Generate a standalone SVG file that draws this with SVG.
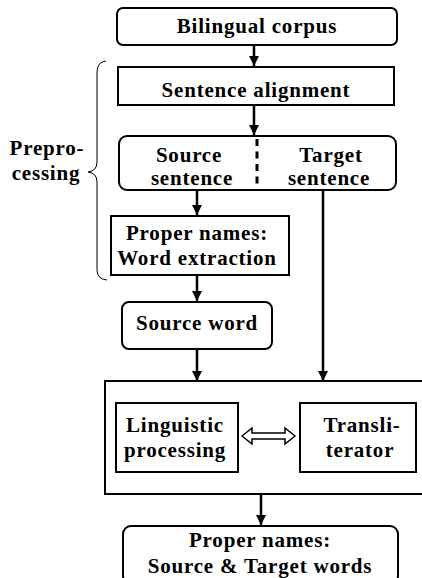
<svg xmlns="http://www.w3.org/2000/svg" width="422" height="578" viewBox="0 0 422 578">
<style>
.box{fill:#fff;stroke:#000;stroke-width:2}
.frame{fill:none;stroke:#000;stroke-width:2}
.t{font-family:"Liberation Serif","Times New Roman",serif;font-weight:bold;font-size:21px;letter-spacing:0.8px;fill:#000;text-anchor:middle}
.c{fill:none;stroke:#000;stroke-width:2.5}
</style>
<defs>
<marker id="ah" markerUnits="userSpaceOnUse" markerWidth="12" markerHeight="12" viewBox="0 0 12 12" refX="10" refY="6" orient="auto">
<path d="M0,1 L10,6 L0,11 Z" fill="#000"/>
</marker>
</defs>
<rect width="422" height="578" fill="#fff"/>
<g id="processing-module">
<rect class="frame" x="105" y="381" width="325" height="113"/>
</g>
<g id="connectors">
<path class="c" d="M254,45 V66" marker-end="url(#ah)"/>
<path class="c" d="M254,105 V135" marker-end="url(#ah)"/>
<path class="c" d="M197,190 V215" marker-end="url(#ah)"/>
<path class="c" d="M197,275 V301" marker-end="url(#ah)"/>
<path class="c" d="M197,349 V381" marker-end="url(#ah)"/>
<path class="c" d="M323,190 V381" marker-end="url(#ah)"/>
<path class="c" d="M261,494 V525" marker-end="url(#ah)"/>
<path d="M242,436 L252,428 V433 H285 V428 L295,436 L285,444 V439 H252 V444 Z" fill="#fff" stroke="#000" stroke-width="1.5" stroke-linejoin="miter"/>
</g>
<g id="preprocessing">
<path d="M106,61 Q97,62 97,72 V162 Q97,171 88,172 Q97,173 97,182 V270 Q97,279 107,280" fill="none" stroke="#000" stroke-width="1"/>
<text class="t" x="47" y="155">Prepro-</text>
<text class="t" x="46" y="180">cessing</text>
</g>
<g id="bilingual-corpus">
<rect class="box" x="117" y="8" width="280" height="37" rx="6"/>
<text class="t" x="257" y="33">Bilingual corpus</text>
</g>
<g id="sentence-alignment">
<rect class="box" x="118" y="67" width="276" height="38"/>
<text class="t" x="256" y="97">Sentence alignment</text>
</g>
<g id="source-target-sentence">
<rect class="box" x="119" y="136" width="277" height="54" rx="8"/>
<line x1="257" y1="139" x2="257" y2="190" stroke="#000" stroke-width="3" stroke-dasharray="7 5.5"/>
<text class="t" x="189" y="162">Source</text>
<text class="t" x="192" y="185">sentence</text>
<text class="t" x="331" y="162">Target</text>
<text class="t" x="329" y="185">sentence</text>
</g>
<g id="word-extraction">
<rect class="box" x="111" y="216" width="178" height="59"/>
<text class="t" x="197" y="240">Proper names:</text>
<text class="t" x="197" y="265">Word extraction</text>
</g>
<g id="source-word">
<rect class="box" x="122" y="302" width="150" height="47" rx="7"/>
<text class="t" x="197" y="330">Source word</text>
</g>
<g id="linguistic-processing">
<rect class="box" x="116" y="403" width="122" height="69"/>
<text class="t" x="175" y="432">Linguistic</text>
<text class="t" x="175" y="457">processing</text>
</g>
<g id="transliterator">
<rect class="box" x="300" y="403" width="116" height="69"/>
<text class="t" x="362" y="432">Transli-</text>
<text class="t" x="360" y="457">terator</text>
</g>
<g id="result">
<rect class="box" x="123" y="526" width="275" height="58" rx="8"/>
<text class="t" x="260" y="547">Proper names:</text>
<text class="t" x="260" y="573">Source &amp; Target words</text>
</g>
</svg>
